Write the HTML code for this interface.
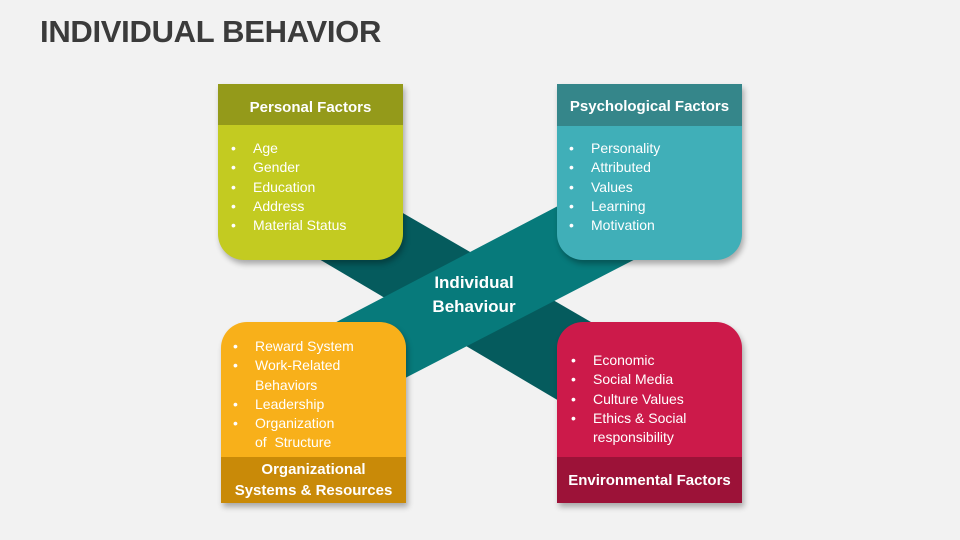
<!DOCTYPE html>
<html><head><meta charset="utf-8"><style>
body{margin:0;background:#f2f2f2;}
#c{position:relative;width:960px;height:540px;overflow:hidden;background:#f2f2f2;font-family:"Liberation Sans",sans-serif;color:#fff;}
.t{position:absolute;left:40px;top:14px;font-size:31px;font-weight:bold;color:#3b3b3b;letter-spacing:-0.3px;}
.hd{position:absolute;left:0;width:185px;font-weight:bold;font-size:15px;text-align:center;display:flex;align-items:center;justify-content:center;line-height:21px;box-sizing:border-box;}
.bd{position:absolute;left:0;width:185px;box-shadow:2px 4px 6px rgba(0,0,0,0.3);}
ul{list-style:none;margin:0;padding:0;position:absolute;font-size:14px;line-height:19.3px;}
li{position:relative;padding-left:22px;}
li:before{content:"•";position:absolute;left:0;}
.ct{position:absolute;left:404px;top:271px;width:140px;text-align:center;font-weight:bold;font-size:17px;line-height:24px;}
</style></head><body><div id="c">
<div class="t">INDIVIDUAL BEHAVIOR</div>
<svg width="960" height="540" style="position:absolute;left:0;top:0">
<polygon points="320,165 660,362 620,437 280,236" fill="#055b5d"/>
<polygon points="300,341 600,184 680,236 380,391" fill="#077a7b"/>
</svg>
<div class="ct">Individual<br>Behaviour</div>

<div class="bd" style="left:218px;top:84px;height:176px;background:#c3cb21;border-radius:0 0 26px 26px;"></div>
<div class="hd" style="left:218px;top:84px;height:41px;padding-top:6px;background:#949a1a;">Personal Factors</div>
<ul style="left:231px;top:139px"><li>Age</li><li>Gender</li><li>Education</li><li>Address</li><li>Material Status</li></ul>

<div class="bd" style="left:557px;top:84px;height:176px;background:#40afb8;border-radius:0 0 26px 26px;"></div>
<div class="hd" style="left:557px;top:84px;height:42px;padding-top:2px;background:#35868a;">Psychological Factors</div>
<ul style="left:569px;top:139px"><li>Personality</li><li>Attributed</li><li>Values</li><li>Learning</li><li>Motivation</li></ul>

<div class="bd" style="left:221px;top:322px;height:181px;background:#f8b01a;border-radius:26px 26px 0 0;"></div>
<div class="hd" style="left:221px;top:457px;height:46px;background:#c98a08;">Organizational<br>Systems &amp; Resources</div>
<ul style="left:233px;top:337px"><li>Reward System</li><li>Work-Related<br>Behaviors</li><li>Leadership</li><li>Organization<br>of&nbsp; Structure</li></ul>

<div class="bd" style="left:557px;top:322px;height:181px;background:#cc1a4a;border-radius:26px 26px 0 0;"></div>
<div class="hd" style="left:557px;top:457px;height:46px;background:#9c1238;">Environmental Factors</div>
<ul style="left:571px;top:351px"><li>Economic</li><li>Social Media</li><li>Culture Values</li><li>Ethics &amp; Social<br>responsibility</li></ul>
</div></body></html>
